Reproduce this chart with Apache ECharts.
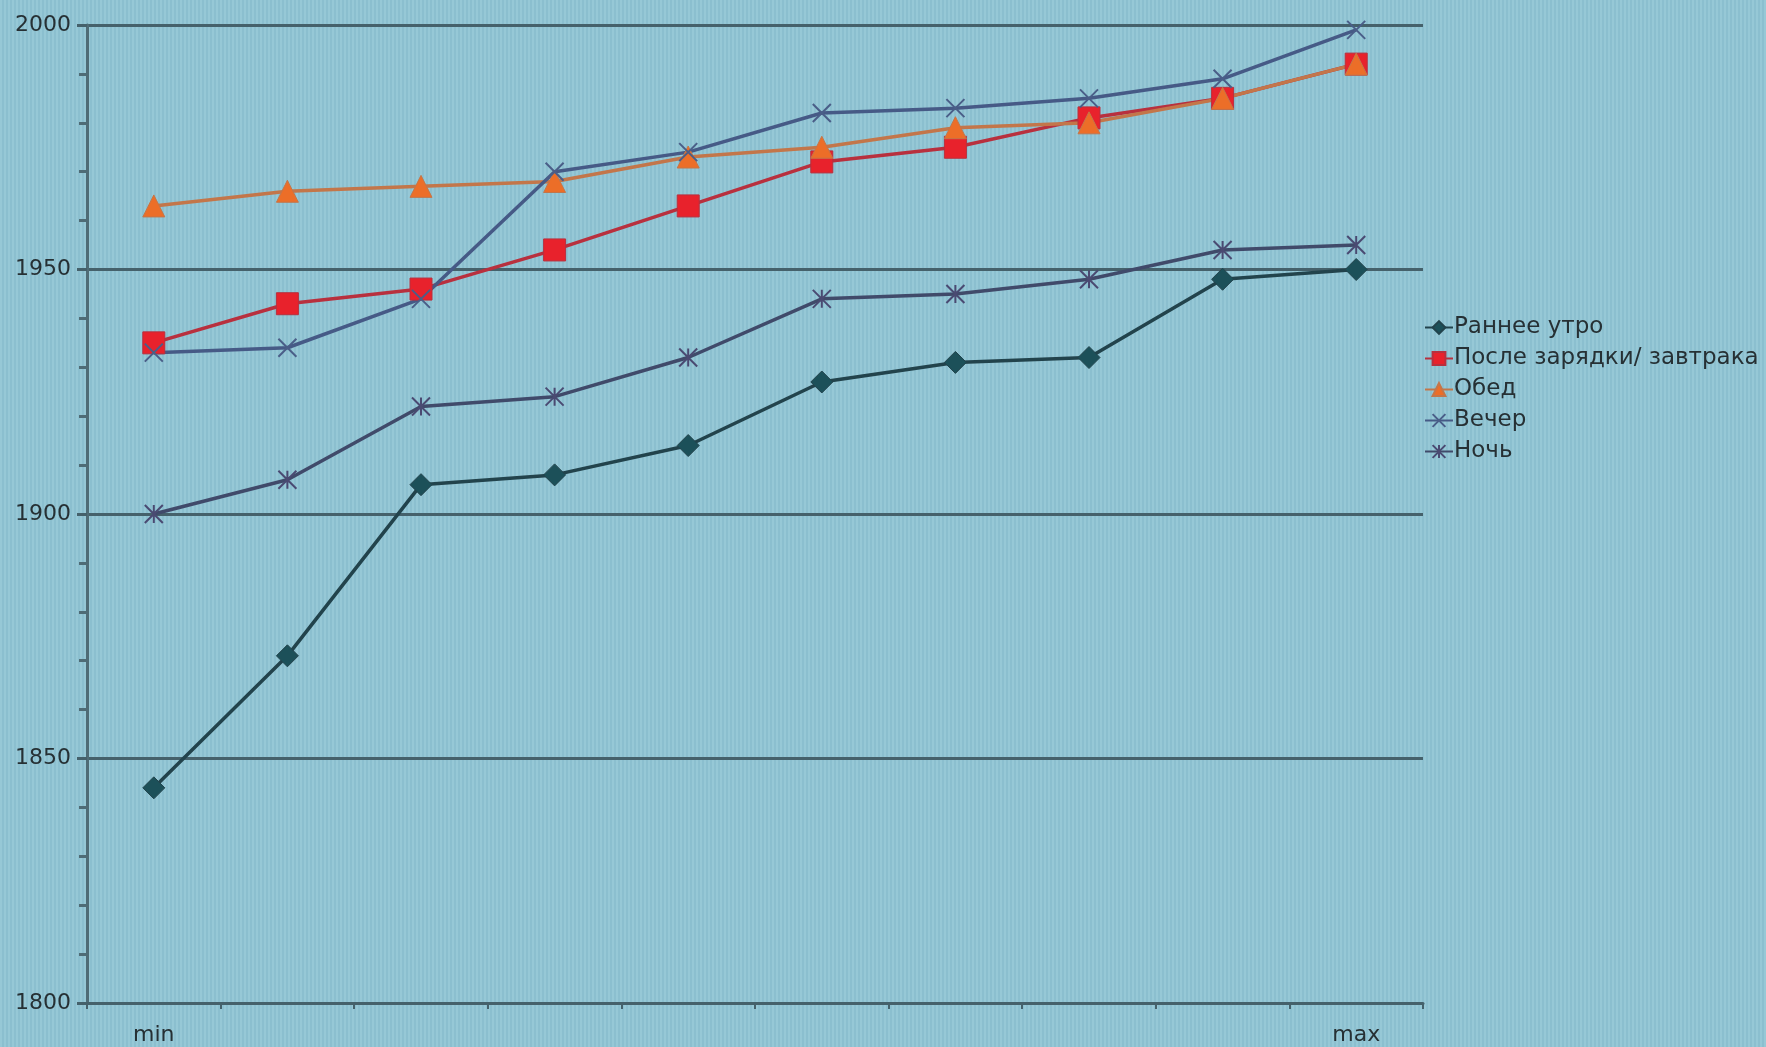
<!DOCTYPE html>
<html lang="ru">

<head>
  <meta charset="UTF-8">
  <title>Chart</title>
  <style>
    html, body { margin: 0; padding: 0; }
    #main {
      width: 1766px;
      height: 1047px;
      background: repeating-linear-gradient(90deg, #96c8d6 0px, #96c8d6 2px, #8bbfcf 2px, #8bbfcf 4px);
    }
  </style>
</head>

<body>
  <div id="main"></div>

  <script src="https://cdn.jsdelivr.net/npm/echarts@6/dist/echarts.min.js"></script>

  <script>
    const xLabels = ['min', '', '', '', '', '', '', '', '', 'max']

    const earlyMorning = [1844, 1871, 1906, 1908, 1914, 1927, 1931, 1932, 1948, 1950]
    const afterBreakfast = [1935, 1943, 1946, 1954, 1963, 1972, 1975, 1981, 1985, 1992]
    const lunch = [1963, 1966, 1967, 1968, 1973, 1975, 1979, 1980, 1985, 1992]
    const evening = [1933, 1934, 1944, 1970, 1974, 1982, 1983, 1985, 1989, 1999]
    const night = [1900, 1907, 1922, 1924, 1932, 1944, 1945, 1948, 1954, 1955]

    const font = 'DejaVu Sans'
    const crossPath = 'path://M0,0L10,10M10,0L0,10'
    const starPath = 'path://M0,0L10,10M10,0L0,10M5,0L5,10'

    const myChart = echarts.init(document.getElementById('main'))

    function lineSeries(name, data, color, lineColor, symbol, size, stroke) {
      return {
        name: name,
        type: 'line',
        data: data,
        symbol: symbol,
        symbolSize: size,
        showAllSymbol: true,
        lineStyle: { color: lineColor, width: 3.5 },
        itemStyle: stroke
          ? { color: 'rgba(0,0,0,0)', borderColor: color, borderWidth: 2 }
          : { color: color, borderColor: lineColor, borderWidth: 1 },
        emphasis: { disabled: true },
        animation: false
      }
    }

    const option = {
      backgroundColor: 'transparent',
      textStyle: { fontFamily: font },
      grid: { left: 87, top: 25, right: 343, bottom: 44 },
      legend: {
        orient: 'vertical',
        left: 1419,
        top: 311,
        itemWidth: 28,
        itemHeight: 16,
        itemGap: 8,
        textStyle: { fontFamily: font, fontSize: 23, color: '#263034', padding: [0, 0, 0, -4] },
        data: ['Раннее утро', 'После зарядки/ завтрака', 'Обед', 'Вечер', 'Ночь']
      },
      xAxis: {
        type: 'category',
        data: xLabels,
        boundaryGap: true,
        axisLine: { lineStyle: { color: '#45616b', width: 3 } },
        axisTick: { show: true, interval: 0, length: 6, lineStyle: { color: '#45616b', width: 2 } },
        axisLabel: { interval: 0, margin: 21, fontFamily: font, fontSize: 22, color: '#263034' }
      },
      yAxis: {
        type: 'value',
        min: 1800,
        max: 2000,
        interval: 50,
        axisLine: { show: true, lineStyle: { color: '#4f6c76', width: 3 } },
        axisTick: { show: true, length: 10, lineStyle: { color: '#45616b', width: 3 } },
        minorTick: { show: true, splitNumber: 5, length: 8, lineStyle: { color: '#4f6c76', width: 3 } },
        splitLine: { show: true, lineStyle: { color: '#45616b', width: 3 } },
        axisLabel: {
          margin: 16, fontFamily: font, fontSize: 22, color: '#263034',
          formatter: function (v) { return String(v) }
        }
      },
      series: [
        lineSeries('Раннее утро', earlyMorning, '#1c5059', '#22434c', 'diamond', 22, false),
        lineSeries('После зарядки/ завтрака', afterBreakfast, '#e8222c', '#b8303e', 'rect', 22, false),
        lineSeries('Обед', lunch, '#ec6e28', '#c3764a', 'triangle', 22, false),
        lineSeries('Вечер', evening, '#4a5e88', '#465a86', crossPath, 18, true),
        lineSeries('Ночь', night, '#4a4a72', '#404a6a', starPath, 18, true)
      ]
    }

    myChart.setOption(option)
  </script>
</body>

</html>
